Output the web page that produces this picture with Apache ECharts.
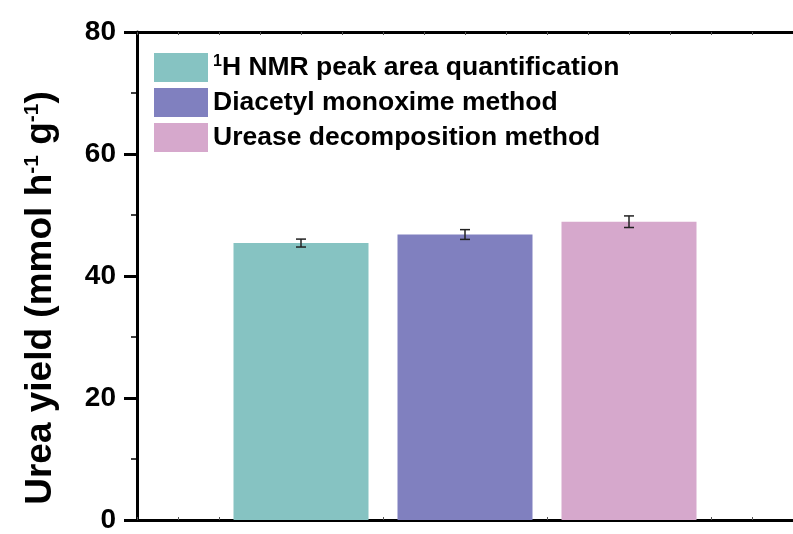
<!DOCTYPE html>
<html>
<head>
<meta charset="utf-8">
<script src="https://cdn.jsdelivr.net/npm/echarts@6/dist/echarts.min.js"></script>
<style>
  html, body { margin: 0; padding: 0; background: #fff; overflow: hidden; }
  #chart { width: 793px; height: 534px; overflow: hidden; }
</style>
</head>
<body>
<div id="chart"></div>
<script>
// Urea yield measured by three quantification methods
const methods = ['1H NMR peak area quantification', 'Diacetyl monoxime method', 'Urease decomposition method'];
const positions = [1, 2, 3];
const yieldValues = [45.4, 46.8, 48.9];
const yieldErrors = [0.65, 0.8, 0.95];
const colors = ['#86C3C2', '#8080BF', '#D6A8CC'];
const yTicks = [0, 20, 40, 60, 80];

const FONT = '"Liberation Sans", Arial, sans-serif';

const chart = echarts.init(document.getElementById('chart'), null, { width: 793, height: 534 });

const barSeries = methods.map((name, i) => ({
  name: name,
  type: 'bar',
  xAxisIndex: 0,
  yAxisIndex: 0,
  barWidth: 135,
  barGap: '-100%',
  itemStyle: { color: colors[i] },
  data: [[positions[i], yieldValues[i]]],
  z: 2
}));

const errorSeries = {
  type: 'custom',
  name: 'error',
  xAxisIndex: 0,
  yAxisIndex: 0,
  z: 5,
  data: positions.map((p, i) => [p, yieldValues[i] - yieldErrors[i], yieldValues[i] + yieldErrors[i]]),
  renderItem: function (params, api) {
    const lo = api.coord([api.value(0), api.value(1)]);
    const hi = api.coord([api.value(0), api.value(2)]);
    const hw = 5;
    const st = { stroke: '#222', lineWidth: 1.5 };
    return {
      type: 'group',
      children: [
        { type: 'line', shape: { x1: lo[0], y1: lo[1], x2: hi[0], y2: hi[1] }, style: st },
        { type: 'line', shape: { x1: lo[0] - hw, y1: lo[1], x2: lo[0] + hw, y2: lo[1] }, style: st },
        { type: 'line', shape: { x1: hi[0] - hw, y1: hi[1], x2: hi[0] + hw, y2: hi[1] }, style: st }
      ]
    };
  }
};

const sideAxisBase = {
  type: 'value',
  min: 0,
  max: 4,
  interval: 0.25,
  axisLine: { show: true, onZero: false, lineStyle: { color: '#000', width: 3 } },
  axisTick: { show: true, inside: true, length: 3, lineStyle: { color: '#555', width: 1 } },
  axisLabel: { show: false },
  splitLine: { show: false }
};

chart.setOption({
  animation: false,
  backgroundColor: '#fff',
  grid: { left: 137, top: 32, right: -10, bottom: 7 },
  legend: {
    orient: 'vertical',
    left: 149,
    top: 48,
    itemWidth: 54,
    itemHeight: 29,
    itemGap: 6,
    icon: 'rect',
    data: methods,
    formatter: function (name) {
      if (name.indexOf('1H ') === 0) {
        return '{sup|1}{b|' + name.slice(1) + '}';
      }
      return '{b|' + name + '}';
    },
    textStyle: {
      fontFamily: FONT,
      fontWeight: 'bold',
      fontSize: 26.5,
      color: '#000',
      padding: [0, 0, 0, 0],
      rich: {
        b: { fontFamily: FONT, fontWeight: 'bold', fontSize: 26.5, color: '#000' },
        sup: { fontFamily: FONT, fontWeight: 'bold', fontSize: 16, color: '#000', verticalAlign: 'top', padding: [0, 0, 12, 0] }
      }
    }
  },
  xAxis: [
    Object.assign({}, sideAxisBase, { position: 'bottom' }),
    Object.assign({}, sideAxisBase, { position: 'top' })
  ],
  yAxis: {
    type: 'value',
    min: 0,
    max: 80,
    interval: 20,
    name: '{t|Urea yield (mmol h}{s|-1}{t| g}{s|-1}{t|)}',
    nameLocation: 'middle',
    nameGap: 78,
    nameTextStyle: {
      padding: [0, 44, 0, 0],
      rich: {
        t: { fontFamily: FONT, fontWeight: 'bold', fontSize: 37, color: '#000' },
        s: { fontFamily: FONT, fontWeight: 'bold', fontSize: 21, color: '#000', verticalAlign: 'top', padding: [0, 0, 16, 0] }
      }
    },
    axisLine: { show: true, lineStyle: { color: '#000', width: 3 } },
    axisTick: { show: true, inside: false, length: 13, lineStyle: { color: '#000', width: 3 } },
    minorTick: { show: true, splitNumber: 2, length: 6, lineStyle: { color: '#000', width: 1.5 } },
    axisLabel: {
      margin: 21,
      fontFamily: FONT,
      fontWeight: 'bold',
      fontSize: 28,
      color: '#000',
      formatter: function (v) { return yTicks.indexOf(v) >= 0 ? String(v) : ''; }
    },
    splitLine: { show: false }
  },
  series: barSeries.concat([errorSeries])
});
</script>
</body>
</html>
